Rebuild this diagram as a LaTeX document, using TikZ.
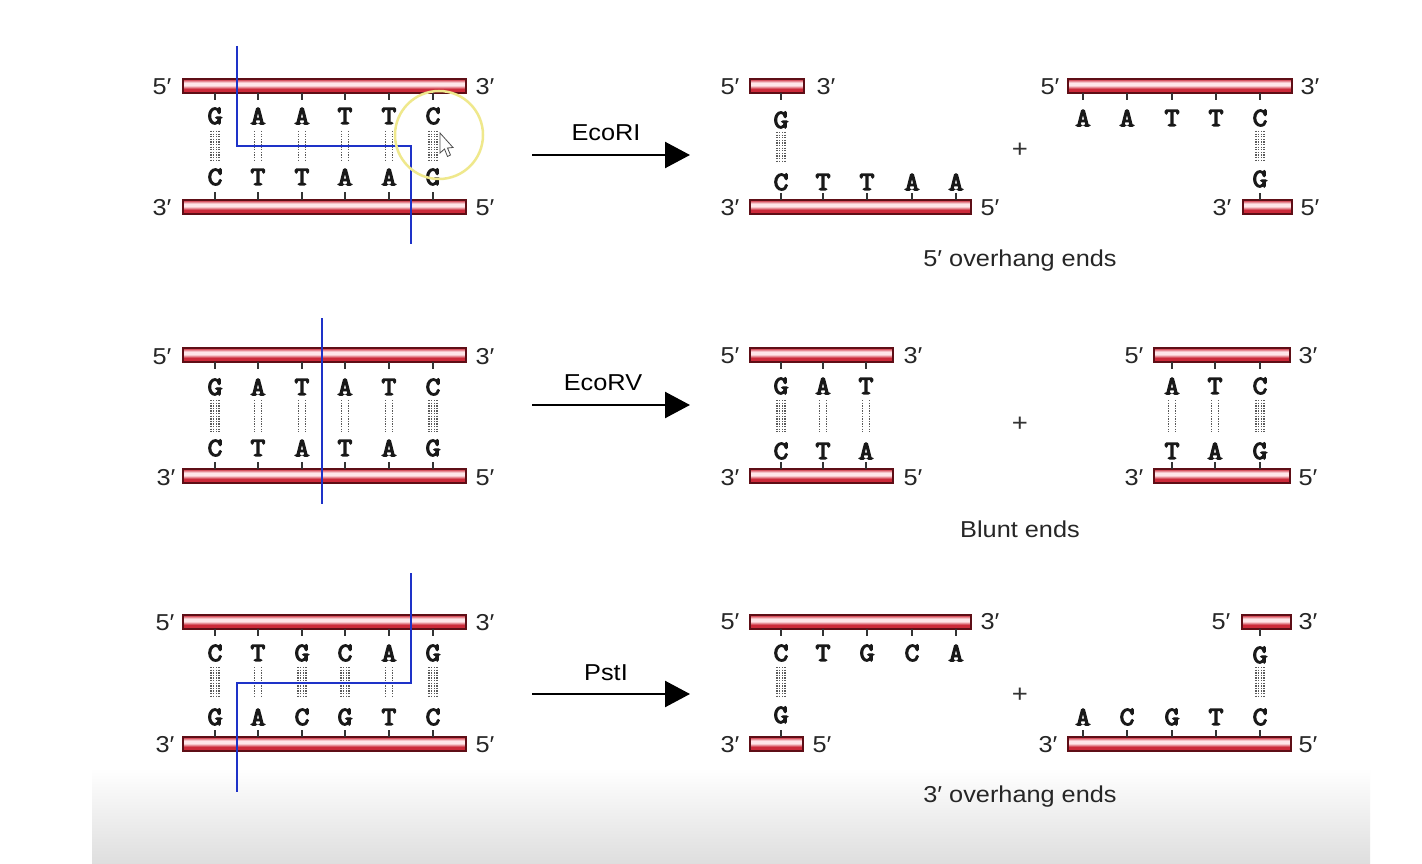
\documentclass[tikz,border=0pt]{standalone}
\usepackage{fontspec}
\setmainfont{Liberation Sans}[FakeStretch=1.1]
\newfontfamily\basefont{Latin Modern Mono}[FakeBold=5,FakeStretch=1.1]
\usetikzlibrary{arrows.meta}
\definecolor{barEdge}{HTML}{5E0E16}
\definecolor{barDark}{HTML}{9A1424}
\definecolor{barMid}{HTML}{CC2A3A}
\definecolor{barLight}{HTML}{FFE6E9}
\definecolor{cutBlue}{HTML}{1E32C8}
\definecolor{hbGray}{HTML}{5A5A5A}
\definecolor{hiYellow}{HTML}{EFE88C}
\pgfdeclareverticalshading{redbar}{100bp}{color(0bp)=(barDark); color(22bp)=(barMid); color(40bp)=(barMid); color(52bp)=(barLight); color(62bp)=(barLight); color(74bp)=(barMid); color(88bp)=(barMid); color(100bp)=(barDark)}
\tikzset{
  strand/.style={draw=barEdge, line width=1.4pt, shading=redbar},
  tickln/.style={draw=black!80, line width=1.3pt},
  basel/.style={font=\basefont\fontsize{26}{26}\selectfont, inner sep=0pt, text=black!90},
  endl/.style={font=\fontsize{23}{23}\selectfont, inner sep=0pt, text=black!85},
  enzl/.style={font=\fontsize{23}{23}\selectfont, inner sep=0pt},
  capl/.style={font=\fontsize{23}{23}\selectfont, inner sep=0pt, text=black!85},
  plusl/.style={font=\fontsize{25}{25}\selectfont, inner sep=0pt, text=black!80},
  hb/.style={draw=hbGray, line width=1.4pt, dash pattern=on 1.3pt off 1.3pt},
  cutln/.style={draw=cutBlue, line width=2.4pt},
  react/.style={draw=black, line width=2.4pt, -{Triangle[length=25pt,width=26pt]}},
}
\newcommand\hbgc[3]{\foreach \dx in {-3.9,-1.3,1.3,3.9}{\draw[hb] ({#1+\dx},#2) -- ({#1+\dx},#3);}}
\newcommand\hbat[3]{\foreach \dx in {-3.5,3.5}{\draw[hb] ({#1+\dx},#2) -- ({#1+\dx},#3);}}
\begin{document}
\begin{tikzpicture}[x=1pt,y=-1pt]
\useasboundingbox (0,0) rectangle (1422,864);
\fill[white] (0,0) rectangle (1422,864);
\shade[top color=white, bottom color=black!13] (92,768) rectangle (1370,864);

% ================= Row 1: EcoRI =================
\path[strand] (183,79) rectangle (466,93);
\path[strand] (183,200) rectangle (466,214);
\foreach \x/\t/\b/\h [count=\i] in {215/G/C/gc,258/A/T/at,302/A/T/at,345/T/A/at,389/T/A/at,433/C/G/gc}{
  \draw[tickln] (\x,93) -- (\x,100);
  \node[basel] (r1t\i) at (\x,116) {\t};
  \csname hb\h\endcsname{\x}{131}{161}
  \node[basel] (r1b\i) at (\x,177) {\b};
  \draw[tickln] (\x,192) -- (\x,200);
}
\node[endl] (r1l1) at (162,87) {5′};
\node[endl] (r1l2) at (485,87) {3′};
\node[endl] (r1l3) at (162,208) {3′};
\node[endl] (r1l4) at (485,208) {5′};
\coordinate (c1a) at (237,46);
\coordinate (c1b) at (237,146);
\coordinate (c1c) at (411,146);
\coordinate (c1d) at (411,244);
\draw[cutln] (c1a) -- (c1b) -- (c1c) -- (c1d);
% cursor highlight
\draw[hiYellow, line width=2.5pt] (439,135) circle[radius=44];
\draw[black!70, fill=white, line width=0.8pt] (440,133) -- (440,153) -- (444.5,149) -- (447.5,156.5) -- (450.5,155) -- (447.5,148) -- (453,147.5) -- cycle;

\coordinate (a1s) at (532,155);
\coordinate (a1e) at (690,155);
\draw[react] (a1s) -- (a1e);
\node[enzl] (e1) at (606,133) {EcoRI};

% fragment A
\path[strand] (750,79) rectangle (804,93);
\path[strand] (750,200) rectangle (971,214);
\draw[tickln] (781,93) -- (781,100);
\node[basel] (f1g) at (781,120) {G};
\hbgc{781}{132}{162}
\foreach \x/\t [count=\i] in {781/C,823/T,867/T,912/A,956/A}{
  \node[basel] (f1b\i) at (\x,182) {\t};
  \draw[tickln] (\x,193) -- (\x,200);
}
\node[endl] (f1l1) at (730,87) {5′};
\node[endl] (f1l2) at (826,87) {3′};
\node[endl] (f1l3) at (730,208) {3′};
\node[endl] (f1l4) at (990,208) {5′};
\node[plusl] (p1) at (1020,150) {+};
% fragment B
\path[strand] (1068,79) rectangle (1292,93);
\path[strand] (1243,200) rectangle (1292,214);
\foreach \x/\t [count=\i] in {1083/A,1127/A,1172/T,1216/T,1260/C}{
  \draw[tickln] (\x,93) -- (\x,100);
  \node[basel] (g1t\i) at (\x,118) {\t};
}
\hbgc{1260}{131}{161}
\node[basel] (g1g) at (1260,179) {G};
\draw[tickln] (1260,193) -- (1260,200);
\node[endl] (g1l1) at (1050,87) {5′};
\node[endl] (g1l2) at (1310,87) {3′};
\node[endl] (g1l3) at (1222,208) {3′};
\node[endl] (g1l4) at (1310,208) {5′};
\node[capl] (k1) at (1020,261) {5′ overhang ends};

% ================= Row 2: EcoRV =================
\path[strand] (183,348) rectangle (466,362);
\path[strand] (183,469) rectangle (466,483);
\foreach \x/\t/\b/\h [count=\i] in {215/G/C/gc,258/A/T/at,302/T/A/at,345/A/T/at,389/T/A/at,433/C/G/gc}{
  \draw[tickln] (\x,362) -- (\x,369);
  \node[basel] (r2t\i) at (\x,387) {\t};
  \csname hb\h\endcsname{\x}{400}{432}
  \node[basel] (r2b\i) at (\x,448) {\b};
  \draw[tickln] (\x,462) -- (\x,469);
}
\node[endl] (r2l1) at (162,357) {5′};
\node[endl] (r2l2) at (485,357) {3′};
\node[endl] (r2l3) at (166,478) {3′};
\node[endl] (r2l4) at (485,478) {5′};
\coordinate (c2a) at (322,318);
\coordinate (c2b) at (322,504);
\draw[cutln] (c2a) -- (c2b);

\coordinate (a2s) at (532,405);
\coordinate (a2e) at (690,405);
\draw[react] (a2s) -- (a2e);
\node[enzl] (e2) at (603,383) {EcoRV};

\path[strand] (750,348) rectangle (893,362);
\path[strand] (750,469) rectangle (893,483);
\foreach \x/\t/\b/\h [count=\i] in {781/G/C/gc,823/A/T/at,866/T/A/at}{
  \draw[tickln] (\x,362) -- (\x,369);
  \node[basel] (f2t\i) at (\x,386) {\t};
  \csname hb\h\endcsname{\x}{400}{432}
  \node[basel] (f2b\i) at (\x,451) {\b};
  \draw[tickln] (\x,462) -- (\x,469);
}
\node[endl] (f2l1) at (730,356) {5′};
\node[endl] (f2l2) at (913,356) {3′};
\node[endl] (f2l3) at (730,478) {3′};
\node[endl] (f2l4) at (913,478) {5′};
\node[plusl] (p2) at (1020,424) {+};
\path[strand] (1154,348) rectangle (1290,362);
\path[strand] (1154,469) rectangle (1290,483);
\foreach \x/\t/\b/\h [count=\i] in {1172/A/T/at,1215/T/A/at,1260/C/G/gc}{
  \draw[tickln] (\x,362) -- (\x,369);
  \node[basel] (g2t\i) at (\x,386) {\t};
  \csname hb\h\endcsname{\x}{400}{432}
  \node[basel] (g2b\i) at (\x,451) {\b};
  \draw[tickln] (\x,462) -- (\x,469);
}
\node[endl] (g2l1) at (1134,356) {5′};
\node[endl] (g2l2) at (1308,356) {3′};
\node[endl] (g2l3) at (1134,478) {3′};
\node[endl] (g2l4) at (1308,478) {5′};
\node[capl] (k2) at (1020,529) {Blunt ends};

% ================= Row 3: PstI =================
\path[strand] (183,615) rectangle (466,629);
\path[strand] (183,737) rectangle (466,751);
\foreach \x/\t/\b/\h [count=\i] in {215/C/G/gc,258/T/A/at,302/G/C/gc,345/C/G/gc,389/A/T/at,433/G/C/gc}{
  \draw[tickln] (\x,629) -- (\x,636);
  \node[basel] (r3t\i) at (\x,653) {\t};
  \csname hb\h\endcsname{\x}{667}{698}
  \node[basel] (r3b\i) at (\x,717) {\b};
  \draw[tickln] (\x,730) -- (\x,737);
}
\node[endl] (r3l1) at (165,623) {5′};
\node[endl] (r3l2) at (485,623) {3′};
\node[endl] (r3l3) at (165,745) {3′};
\node[endl] (r3l4) at (485,745) {5′};
\coordinate (c3a) at (411,573);
\coordinate (c3b) at (411,683);
\coordinate (c3c) at (237,683);
\coordinate (c3d) at (237,792);
\draw[cutln] (c3a) -- (c3b) -- (c3c) -- (c3d);

\coordinate (a3s) at (532,694);
\coordinate (a3e) at (690,694);
\draw[react] (a3s) -- (a3e);
\node[enzl] (e3) at (606,673) {PstI};

\path[strand] (750,615) rectangle (971,629);
\path[strand] (750,737) rectangle (803,751);
\foreach \x/\t [count=\i] in {781/C,823/T,867/G,912/C,956/A}{
  \draw[tickln] (\x,629) -- (\x,636);
  \node[basel] (f3t\i) at (\x,653) {\t};
}
\hbgc{781}{667}{698}
\node[basel] (f3g) at (781,715) {G};
\draw[tickln] (781,730) -- (781,737);
\node[endl] (f3l1) at (730,622) {5′};
\node[endl] (f3l2) at (990,622) {3′};
\node[endl] (f3l3) at (730,745) {3′};
\node[endl] (f3l4) at (822,745) {5′};
\node[plusl] (p3) at (1020,695) {+};
\path[strand] (1242,615) rectangle (1291,629);
\path[strand] (1068,737) rectangle (1291,751);
\draw[tickln] (1260,629) -- (1260,636);
\node[basel] (g3g) at (1260,655) {G};
\hbgc{1260}{667}{698}
\foreach \x/\t [count=\i] in {1083/A,1127/C,1172/G,1216/T,1260/C}{
  \node[basel] (g3b\i) at (\x,717) {\t};
  \draw[tickln] (\x,730) -- (\x,737);
}
\node[endl] (g3l1) at (1221,622) {5′};
\node[endl] (g3l2) at (1308,622) {3′};
\node[endl] (g3l3) at (1048,745) {3′};
\node[endl] (g3l4) at (1308,745) {5′};
\node[capl] (k3) at (1020,797) {3′ overhang ends};
\end{tikzpicture}
\end{document}
